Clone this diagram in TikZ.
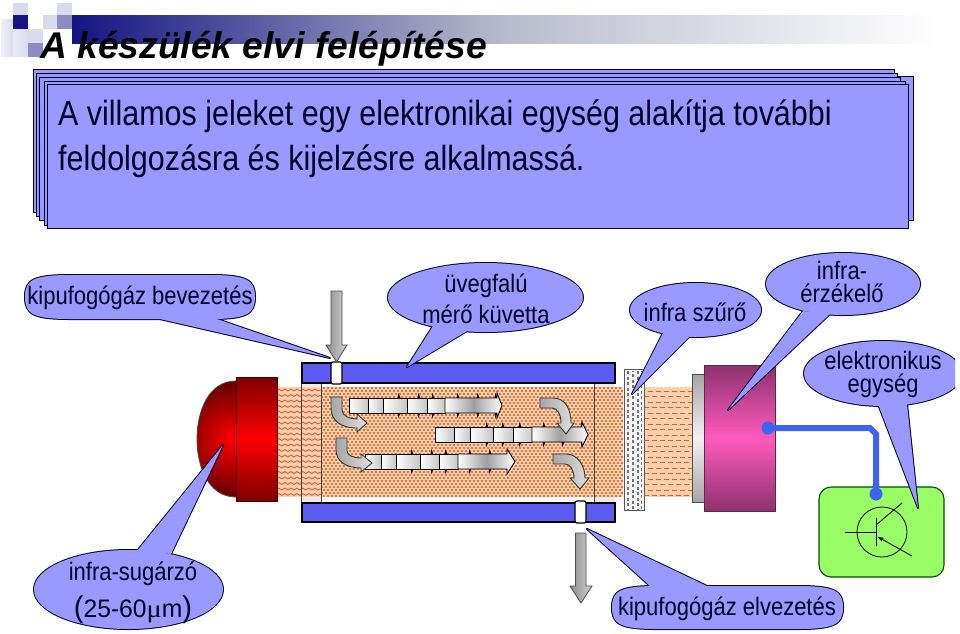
\documentclass[tikz,border=0pt]{standalone}
\usepackage{fontspec}
\usepackage{graphicx}
\setmainfont[FakeStretch=0.87]{Liberation Sans}
\newfontfamily\titlefont{Liberation Sans}
\newfontfamily\greekfont{Liberation Serif}
\usetikzlibrary{decorations.pathmorphing,arrows.meta}
\definecolor{calloutblue}{RGB}{153,153,255}
\definecolor{barblue}{RGB}{92,92,240}
\definecolor{wireblue}{RGB}{60,100,240}
\definecolor{navyink}{RGB}{0,0,40}
\definecolor{orangebase}{RGB}{251,208,170}
\definecolor{orangedot}{RGB}{226,115,65}
\definecolor{wavered}{RGB}{222,90,60}
\definecolor{headnavy}{RGB}{20,20,130}
\definecolor{headmid}{RGB}{140,140,195}
\definecolor{headpale}{RGB}{218,218,238}
\definecolor{headgrey}{RGB}{185,188,205}
\definecolor{plumdark}{RGB}{140,50,110}
\definecolor{plumbright}{RGB}{255,90,190}
\definecolor{boxgreen}{RGB}{153,255,102}
\definecolor{lampdark}{RGB}{125,0,0}
\tikzset{
  cline/.style={draw=navyink,line width=2pt,line join=round},
  cfill/.style={fill=calloutblue},
  slide/.style={draw=navyink,line width=1pt,fill=calloutblue},
  ctext/.style={font=\fontsize{25.3}{31}\selectfont,text=navyink,align=center,inner sep=0pt},
  bar/.style={draw=black,line width=1.5pt,fill=barblue},
  notch/.style={draw=black,line width=1.2pt,fill=white,rounded corners=2pt},
  seg/.style={draw=black,line width=.9pt,left color=white,right color=gray!45},
  arrowseg/.style={draw=black,line width=.9pt,left color=white,right color=white,middle color=gray!75},
  curvearrow/.style={draw=black!80,line width=.9pt,left color=gray!70,right color=gray!25},
  portarrow/.style={draw=black!70,line width=.8pt,left color=gray!90,right color=gray!35},
}
\newcommand{\callout}[2]{%
  \draw[cline] #1; \draw[cline] #2;
  \fill[cfill] #1; \fill[cfill] #2;}
\newcommand{\barbs}[3]{%
  \foreach \bx in {#1} {
    \fill[black] (\bx-1.4,#2) -- (\bx-.5,#2-5) -- (\bx+1.4,#2) -- cycle;
    \fill[black] (\bx-1.4,#3) -- (\bx-.5,#3+5) -- (\bx+1.4,#3) -- cycle;
  }}
\newcommand{\softbox}[4]{(#1,{(#3+#4)/2}) .. controls (#1,#3+5) and (#1+8,#3) .. (#1+45,#3) -- (#2-45,#3) .. controls (#2-8,#3) and (#2,#3+5) .. (#2,{(#3+#4)/2}) .. controls (#2,#4-5) and (#2-8,#4) .. (#2-45,#4) -- (#1+45,#4) .. controls (#1+8,#4) and (#1,#4-5) .. (#1,{(#3+#4)/2}) -- cycle}
\begin{document}
\begin{tikzpicture}[x=1pt,y=-1pt]
\useasboundingbox (0,0) rectangle (960,633);
\fill[white] (0,0) rectangle (960,633);
% header
\shade[left color=headnavy,right color=white,middle color=headgrey] (72,15) rectangle (940,43);
\shade[left color=headpale!40,right color=headpale] (1,19) rectangle (13,56);
\shade[left color=headpale!60,right color=headpale] (13,29) rectangle (28,56);
\fill[headpale] (13,3) rectangle (28,15);
\fill[headnavy] (13,15) rectangle (28,29);
\fill[headpale] (43,15) rectangle (57,29);
\fill[headpale] (57,3) rectangle (72,15);
\fill[headmid] (57,15) rectangle (72,29);
\fill[headpale] (28,29) rectangle (43,43);
\fill[headmid] (28,43) rectangle (43,57);
\node (title) [anchor=base west,inner sep=0pt,font=\titlefont\bfseries\itshape\fontsize{37.2}{42}\selectfont] at (40,58) {A készülék elvi felépítése};
% stacked slide panels
\draw[slide] (52,76) rectangle (913,220);
\draw[slide] (33,69) rectangle (894,212);
\draw[slide] (36,73) rectangle (897,216);
\draw[slide] (39,77) rectangle (900,220);
\draw[slide] (44,81) rectangle (905,225);
\draw[slide] (47,84) rectangle (908,228);
\node (lead) [anchor=base west,inner sep=0pt,align=left,text=navyink,font=\fontsize{35}{45}\selectfont] at (58,170) {A villamos jeleket egy elektronikai egység alakítja további\\feldolgozásra és kijelzésre alkalmassá.};
% beam
\fill[orangebase] (277,387) rectangle (623,497);
\fill[orangebase] (644,387) rectangle (692,497);
\foreach \y in {390,395.5,...,496} {
  \draw[wavered,line width=.9pt,decorate,decoration={snake,amplitude=.9pt,segment length=6pt}] (277,\y) -- (321,\y);
}
\begin{scope}
\clip (321,387) rectangle (623,497);
\foreach \y [count=\i] in {388,391,...,497} {
  \pgfmathsetmacro\ph{mod(\i,2)*2}
  \draw[orangedot,line width=1.3pt,dash pattern=on 2pt off 2pt,dash phase=\ph pt] (321,\y) -- (623,\y);
}
\end{scope}
\foreach \y [count=\i] in {391,396.5,...,496} {
  \pgfmathsetmacro\ph{mod(\i,2)*4}
  \draw[wavered,line width=1pt,dash pattern=on 5pt off 3pt,dash phase=\ph pt] (644,\y) -- (692,\y);
}
% cell interior strips
\fill[white] (321,383) rectangle (594,387);
\fill[white] (321,497) rectangle (594,503);
\fill[black!8] (301,383) rectangle (321,387);
\fill[black!8] (301,497) rectangle (321,503);
\fill[black!8] (594,383) rectangle (615,387);
\fill[black!8] (594,497) rectangle (615,503);
\draw[black!75,line width=.9pt] (301,383) rectangle (321,502);
\draw[black!75,line width=.9pt] (594,383) -- (594,503);
% lamp
\begin{scope}
\clip (236,381) .. controls (208,381) and (197,412) .. (197,439) .. controls (197,466) and (208,497) .. (236,497) -- cycle;
\shade[inner color=red,outer color=lampdark!70!black] (232,439) circle (62);
\end{scope}
\draw[black!70,line width=.8pt] (236,381) .. controls (208,381) and (197,412) .. (197,439) .. controls (197,466) and (208,497) .. (236,497);
\draw[black!70!red,line width=1pt,top color=lampdark,bottom color=lampdark,middle color=red] (236,377) rectangle (277,501);
% tube walls
\draw[bar] (302,363) rectangle (615,383);
\draw[bar] (302,503) rectangle (615,522);
\draw[notch] (331,362) rectangle (342,384);
\draw[notch] (575,501) rectangle (586,523);
% flow row 1
\barbs{399,419,433,458,478,496}{398}{413}
\foreach \a/\b in {349/368,368/383,383/407,407/427,427/445} { \draw[seg] (\a,398) rectangle (\b,413); }
\draw[arrowseg] (445,398) -- (497,398) -- (497,393) -- (502,405.5) -- (497,418) -- (497,413) -- (445,413) -- cycle;
% flow row 3
\barbs{412,432,446,470,490,508}{454}{469}
\foreach \a/\b in {365/381,381/396,396/420,420/439,439/458} { \draw[seg] (\a,454) rectangle (\b,469); }
\draw[arrowseg] (458,454) -- (507,454) -- (507,449) -- (515,461.5) -- (507,474) -- (507,469) -- (458,469) -- cycle;
% flow row 2
\barbs{487,503,520,544,563,582}{427}{442}
\foreach \a/\b in {435/454,454/470,470/493,493/513,513/532} { \draw[seg] (\a,427) rectangle (\b,442); }
\draw[arrowseg] (532,427) -- (582,427) -- (582,422) -- (588,434.5) -- (582,447) -- (582,442) -- (532,442) -- cycle;
% curved flow arrows
\draw[curvearrow] (331,397) -- (342,397) -- (342,410) .. controls (342,416) and (350,419) .. (357,419) -- (357,414) -- (367,423) -- (357,432) -- (357,428) .. controls (340,428) and (331,420) .. (331,408) -- cycle;
\draw[curvearrow] (336,438) -- (347,438) -- (347,451) .. controls (347,455) and (353,458) .. (361,458) -- (361,454) -- (372,463) -- (361,472) -- (361,468) .. controls (346,468) and (336,461) .. (336,450) -- cycle;
\draw[curvearrow] (540,398) -- (553,398) .. controls (566,398) and (571,410) .. (571,423) -- (574,423) -- (566,434) -- (557,423) -- (561,423) .. controls (561,414) and (557,408) .. (552,408) -- (540,408) -- cycle;
\draw[curvearrow] (553,454) -- (566,454) .. controls (578,454) and (585,466) .. (585,478) -- (589,478) -- (580,489) -- (570,478) -- (574,478) .. controls (574,470) and (570,464) .. (565,464) -- (553,464) -- cycle;
% port arrows
\draw[portarrow] (331,291) -- (342,291) -- (342,345) -- (347,345) -- (336.5,362) -- (326,345) -- (331,345) -- cycle;
\draw[portarrow] (575.5,533) -- (586,533) -- (586,586) -- (592,586) -- (581,603) -- (570,586) -- (575.5,586) -- cycle;
% filter
\draw[black!65,line width=1pt,fill=black!4] (624,369) rectangle (644,510);
\foreach \x/\p in {628/0,633/2.5,638/0,641.5/2.5} {
  \draw[black!55,line width=1.7pt,dash pattern=on 3pt off 2.5pt,dash phase=\p pt] (\x,371) -- (\x,509);
}
% detector
\draw[black!70,line width=1pt,top color=black!35,bottom color=black!35,middle color=black!5] (692,374) rectangle (704,502);
\draw[plumdark!70!black,line width=1pt,top color=plumdark,bottom color=plumdark,middle color=plumbright] (704,365) rectangle (775,511);
% electronics box
\draw[black!70!green,line width=1.1pt,fill=boxgreen,rounded corners=12pt] (819,487) rectangle (944,577);
% wire
\draw[wireblue,line width=6pt] (768,428) -- (870,428) -- (876,434) -- (876,494);
\fill[wireblue] (768,428) circle (6.5);
\fill[wireblue] (876,494) circle (6.5);
% transistor
\draw[black,line width=.8pt] (882,532) circle (25);
\draw[black,line width=.8pt] (845,532) -- (876,532);
\draw[black,line width=1pt] (876,518) -- (876,546);
\draw[black,line width=.8pt] (876,525) -- (902,503);
\draw[black,line width=.8pt,{Stealth[length=6pt,width=4.5pt]}-] (878,537) -- (912,556);
% callouts
\callout{\softbox{25}{255}{275}{319}}{(160,319) -- (330,358) -- (217,319) -- cycle}
\node (inlet) [ctext] at (140,298) {kipufogógáz bevezetés};
\callout{(485.5,297.5) ellipse [x radius=97.5,y radius=34.5]}{(433,326) -- (407,367) -- (467,331) -- cycle}
\node (cuvette) [ctext] at (486,299) {üvegfalú\\mérő küvetta};
\callout{(695.5,310) ellipse [x radius=65.5,y radius=27]}{(663,333) -- (632,394) -- (690,336) -- cycle}
\node (filterlabel) [ctext] at (695,312) {infra szűrő};
\callout{(843,284) ellipse [x radius=77,y radius=31]}{(803,311) -- (728,410) -- (830,314) -- cycle}
\node (sensor) [ctext,font=\fontsize{25.3}{23.5}\selectfont] at (842,282) {infra-\\érzékelő};
\begin{scope}
\clip (0,0) rectangle (955,633);
\callout{(883,373.5) ellipse [x radius=79,y radius=32.5]}{(878,404) -- (918,508) -- (907,404) -- cycle}
\end{scope}
\node (unit) [ctext,font=\fontsize{25.3}{23}\selectfont] at (883,374) {elektronikus\\egység};
\callout{(128.5,589.5) ellipse [x radius=94.5,y radius=39.5]}{(137,551) -- (223,445) -- (171,554) -- cycle}
\node (source) [ctext,font=\fontsize{25.3}{37}\selectfont] at (133,593) {infra-sugárzó\\\scalebox{1.12}[1]{{\fontsize{30}{37}\selectfont(}25-60{\greekfont μ}m{\fontsize{30}{37}\selectfont)}}};
\callout{\softbox{612}{843}{586}{629}}{(650,586) -- (587,529) -- (707,586) -- cycle}
\node (outlet) [ctext] at (727,609) {kipufogógáz elvezetés};
\end{tikzpicture}
\end{document}
